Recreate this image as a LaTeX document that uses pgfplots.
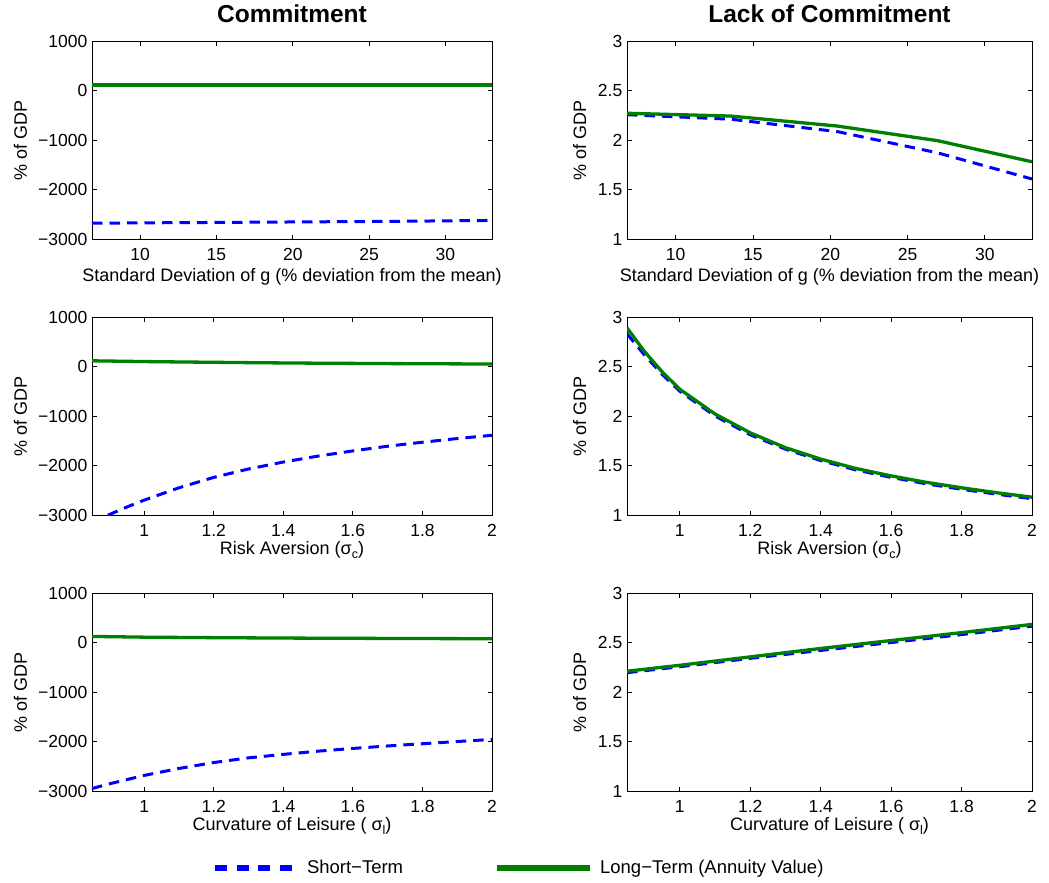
\documentclass[border=0pt]{standalone}
\usepackage{fontspec}
\setmainfont{Liberation Sans}
\usepackage{pgfplots}
\usepackage{pgfplotstable}
\pgfplotsset{compat=1.18}
\definecolor{mblue}{RGB}{0,0,255}
\definecolor{mgreen}{RGB}{0,128,0}

\pgfplotstableread{
x green blue
6.85 110 -2680
13.55 110 -2668
20.45 110 -2655
26.95 110 -2642
33.05 110 -2625
}\tlA
\pgfplotstableread{
x green blue
6.85 2.270 2.256
13.55 2.242 2.210
20.45 2.141 2.085
26.95 1.993 1.870
33.05 1.780 1.606
}\trA
\pgfplotstableread{
x green blue
0.85 115 -3150
0.90 110 -2990
0.95 105 -2840
1.00 100 -2700
1.10 92 -2450
1.20 85 -2240
1.30 78 -2070
1.40 72 -1930
1.50 67 -1810
1.60 63 -1705
1.70 59 -1610
1.80 56 -1530
1.90 53 -1455
2.00 50 -1390
}\tlB
\pgfplotstableread{
x green blue
0.85 2.890 2.830
0.90 2.650 2.615
0.95 2.445 2.420
1.00 2.270 2.250
1.10 2.020 2.000
1.20 1.830 1.810
1.30 1.680 1.665
1.40 1.565 1.550
1.50 1.470 1.455
1.60 1.395 1.380
1.70 1.330 1.315
1.80 1.275 1.260
1.90 1.225 1.210
2.00 1.180 1.165
}\trB
\pgfplotstableread{
x green blue
0.85 122 -2950
0.90 118 -2855
1.00 108 -2685
1.10 103 -2545
1.20 98 -2425
1.30 94 -2330
1.40 90 -2260
1.50 87 -2195
1.60 85 -2140
1.70 82 -2090
1.80 80 -2045
1.90 78 -2000
2.00 77 -1958
}\tlC
\pgfplotstableread{
x green blue
0.85 2.210 2.195
1.00 2.270 2.255
1.20 2.355 2.340
1.40 2.440 2.420
1.60 2.520 2.500
1.80 2.600 2.580
2.00 2.683 2.665
}\trC

\newcommand{\sub}[1]{\raisebox{-0.45ex}{\fontsize{12.5}{14}\selectfont #1}}

\pgfplotsset{
  base/.style={
    scale only axis,
    height=198pt,
    axis line style={line width=0.9pt},
    tick style={line width=0.8pt, black},
    major tick length=4.5pt,
    tick align=inside,
    xtick pos=both, ytick pos=both,
    /pgf/number format/assume math mode=true,
    tick label style={font=\fontsize{17.5}{20}\selectfont},
    label style={font=\fontsize{18}{21}\selectfont},
    yticklabel style={inner sep=0pt, xshift=-4.5pt},
    xticklabel style={inner sep=0pt, yshift=-9.3pt, anchor=north},
    title style={font=\fontsize{24.5}{28}\selectfont\bfseries, at={(axis description cs:0.5,1)}, anchor=base, yshift=12.5pt},
    ylabel={\% of GDP},
  },
  leftcol/.style={base, width=400pt, ymin=-3000, ymax=1000,
    ytick={-3000,-2000,-1000,0,1000}, yticklabels={−3000,−2000,−1000,0,1000},
    ylabel style={at={(axis description cs:-0.163,0.5)}, anchor=base}},
  rightcol/.style={base, width=405pt, ymin=1, ymax=3,
    ytick={1,1.5,2,2.5,3}, yticklabels={1,1.5,2,2.5,3},
    ylabel style={at={(axis description cs:-0.101,0.5)}, anchor=base}},
  toprow/.style={xmin=6.85, xmax=33.05, xtick={10,15,20,25,30}, xticklabels={10,15,20,25,30},
    xlabel={Standard Deviation of g (\% deviation from the mean)},
    xlabel style={at={(axis description cs:0.5,0)}, anchor=base, yshift=-42.7pt}},
  lowrow/.style={xmin=0.85, xmax=2, xtick={1,1.2,1.4,1.6,1.8,2}, xticklabels={1,1.2,1.4,1.6,1.8,2},
    xlabel style={at={(axis description cs:0.5,0)}, anchor=base, yshift=-39.3pt}},
  bl/.style={color=mblue, line width=3pt, dash pattern=on 10.5pt off 7pt},
  gr/.style={color=mgreen, line width=3.3pt},
}

\begin{document}
\begin{tikzpicture}
\path[use as bounding box] (0pt,0pt) rectangle (1049pt,-883pt);

% top row
\begin{axis}[leftcol, toprow, at={(92pt,-239pt)}, anchor=south west, title={Commitment}]
\addplot[bl] table[x=x, y=blue] {\tlA};
\addplot[gr] table[x=x, y=green] {\tlA};
\end{axis}
\begin{axis}[rightcol, toprow, at={(627pt,-239pt)}, anchor=south west, title={Lack of Commitment}]
\addplot[bl] table[x=x, y=blue] {\trA};
\addplot[gr] table[x=x, y=green] {\trA};
\end{axis}

% middle row
\begin{axis}[leftcol, lowrow, at={(92pt,-515pt)}, anchor=south west, xlabel={Risk Aversion (σ\sub{c})}]
\addplot[bl] table[x=x, y=blue] {\tlB};
\addplot[gr] table[x=x, y=green] {\tlB};
\end{axis}
\begin{axis}[rightcol, lowrow, at={(627pt,-515pt)}, anchor=south west, xlabel={Risk Aversion (σ\sub{c})}]
\addplot[bl] table[x=x, y=blue] {\trB};
\addplot[gr] table[x=x, y=green] {\trB};
\end{axis}

% bottom row
\begin{axis}[leftcol, lowrow, at={(92pt,-791pt)}, anchor=south west, xlabel={Curvature of Leisure ( σ\sub{l})},
  legend columns=-1,
  legend style={at={(axis description cs:0.3,-0.389)}, anchor=west, draw=none, fill=none,
    inner sep=0pt, outer sep=0pt, font=\fontsize{18.5}{21}\selectfont,
    /tikz/every odd column/.append style={column sep=7pt},
    /tikz/every even column/.append style={column sep=91pt},
    nodes={inner sep=0pt}},
  ]
\addplot[bl, legend image code/.code={\draw[mblue, line width=6pt, dash pattern=on 12pt off 9.5pt] (0pt,0pt) -- (82pt,0pt);}] table[x=x, y=blue] {\tlC};
\addlegendentry{Short−Term}
\addplot[gr, legend image code/.code={\draw[mgreen, line width=6pt] (0pt,0pt) -- (93pt,0pt);}] table[x=x, y=green] {\tlC};
\addlegendentry{Long−Term (Annuity Value)}
\end{axis}
\begin{axis}[rightcol, lowrow, at={(627pt,-791pt)}, anchor=south west, xlabel={Curvature of Leisure ( σ\sub{l})}]
\addplot[bl] table[x=x, y=blue] {\trC};
\addplot[gr] table[x=x, y=green] {\trC};
\end{axis}
\end{tikzpicture}
\end{document}
